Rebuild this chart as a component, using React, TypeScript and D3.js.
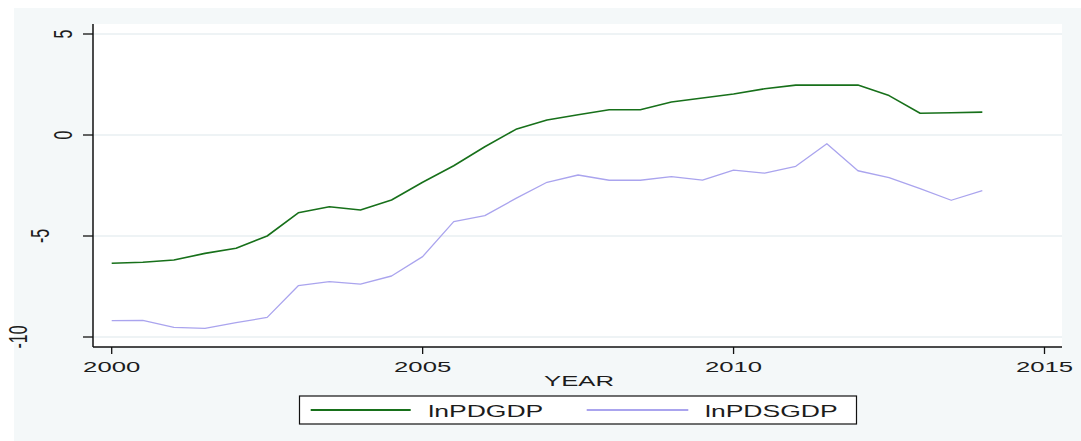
import React from "react";
import * as d3 from "d3";

// Half-yearly observations, 2000–2014
const years: number[] = [
  2000, 2000.5, 2001, 2001.5, 2002, 2002.5, 2003, 2003.5, 2004, 2004.5,
  2005, 2005.5, 2006, 2006.5, 2007, 2007.5, 2008, 2008.5, 2009, 2009.5,
  2010, 2010.5, 2011, 2011.5, 2012, 2012.5, 2013, 2013.5, 2014,
];

const lnPDGDP: number[] = [
  -6.35, -6.3, -6.19, -5.86, -5.61, -5.0, -3.85, -3.55, -3.71, -3.22,
  -2.34, -1.52, -0.58, 0.28, 0.74, 1.0, 1.25, 1.25, 1.63, 1.83,
  2.03, 2.29, 2.47, 2.47, 2.47, 1.95, 1.08, 1.1, 1.13,
];

const lnPDSGDP: number[] = [
  -9.19, -9.18, -9.52, -9.57, -9.29, -9.03, -7.46, -7.26, -7.38, -6.98,
  -6.02, -4.29, -3.99, -3.14, -2.34, -1.98, -2.24, -2.24, -2.06, -2.23,
  -1.74, -1.89, -1.55, -0.43, -1.77, -2.11, -2.65, -3.23, -2.75,
];

const xTicks: number[] = [2000, 2005, 2010, 2015];
const yTicks: number[] = [-10, -5, 0, 5];
const seriesNames: string[] = ["lnPDGDP", "lnPDSGDP"];
const seriesColors: string[] = ["#17701a", "#aaa4ee"];

const W = 1081;
const H = 441;
const plotLeft = 93;
const plotRight = 1062;
const plotTop = 24;
const plotBottom = 347;
const FONT = "'Liberation Sans', Arial, Helvetica, sans-serif";
const STRETCH = 1.66;

export default function App() {
  const x = d3.scaleLinear().domain([2000, 2015]).range([111.7, 1044.5]);
  const y = d3.scaleLinear().domain([-10, 5]).range([337, 34]);

  const line = d3
    .line<[number, number]>()
    .x((d) => x(d[0]))
    .y((d) => y(d[1]));

  const series = [lnPDGDP, lnPDSGDP].map((vals) =>
    years.map((yr, i) => [yr, vals[i]] as [number, number])
  );

  const textColor = "#1c1c1c";

  return (
    <svg
      width={W}
      height={H}
      style={{ position: "absolute", left: 0, top: 0, display: "block" }}
      fontFamily={FONT}
    >
      <rect x={0} y={0} width={W} height={H} fill="#ffffff" />
      {/* graph region */}
      <rect x={14} y={8} width={W - 14} height={H - 8} fill="#f4f8f9" />
      {/* plot region */}
      <rect
        x={plotLeft}
        y={plotTop}
        width={plotRight - plotLeft}
        height={plotBottom - plotTop}
        fill="#ffffff"
      />

      {/* horizontal grid */}
      {yTicks.map((t) => (
        <line
          key={"g" + t}
          x1={plotLeft}
          x2={plotRight}
          y1={y(t)}
          y2={y(t)}
          stroke="#eef3f5"
          strokeWidth={2}
        />
      ))}

      {/* series */}
      {series.map((pts, i) => (
        <path
          key={seriesNames[i]}
          d={line(pts) ?? ""}
          fill="none"
          stroke={seriesColors[i]}
          strokeWidth={i === 0 ? 1.6 : 1.3}
          strokeLinejoin="round"
        />
      ))}

      {/* axes */}
      <line
        x1={plotLeft}
        x2={plotLeft}
        y1={plotTop}
        y2={plotBottom}
        stroke="#111"
        strokeWidth={1.5}
      />
      <line
        x1={plotLeft}
        x2={plotRight}
        y1={plotBottom}
        y2={plotBottom}
        stroke="#111"
        strokeWidth={1.5}
      />

      {/* y ticks and rotated labels */}
      {yTicks.map((t) => {
        const label = String(t);
        const cx = 62.5 - 22.5 * (label.length - 1);
        return (
          <g key={"y" + t}>
            <line
              x1={plotLeft - 10}
              x2={plotLeft}
              y1={y(t)}
              y2={y(t)}
              stroke="#111"
              strokeWidth={1.3}
            />
            <text
              transform={`translate(${cx},${y(t)}) scale(${STRETCH},1) rotate(-90)`}
              y={5.7}
              textAnchor="middle"
              fontSize={16}
              fill={textColor}
            >
              {label}
            </text>
          </g>
        );
      })}

      {/* x ticks and labels */}
      {xTicks.map((t) => (
        <g key={"x" + t}>
          <line
            x1={x(t)}
            x2={x(t)}
            y1={plotBottom}
            y2={plotBottom + 7}
            stroke="#111"
            strokeWidth={1.3}
          />
          <text
            transform={`translate(${x(t)},372) scale(${STRETCH},1)`}
            textAnchor="middle"
            fontSize={15.5}
            fill={textColor}
          >
            {t}
          </text>
        </g>
      ))}

      {/* x axis title */}
      <text
        transform={`translate(579,386) scale(${STRETCH},1)`}
        textAnchor="middle"
        fontSize={15.5}
        fill={textColor}
      >
        YEAR
      </text>

      {/* legend */}
      <rect
        x={299.5}
        y={396}
        width={557}
        height={28}
        fill="#ffffff"
        stroke="#111"
        strokeWidth={1.2}
      />
      {[
        { x1: 310.7, x2: 410.7, tx: 428.3 },
        { x1: 586.7, x2: 688.3, tx: 705 },
      ].map((p, i) => (
        <g key={"lg" + i}>
          <line
            x1={p.x1}
            x2={p.x2}
            y1={410}
            y2={410}
            stroke={seriesColors[i]}
            strokeWidth={i === 0 ? 2 : 1.8}
          />
          <text
            transform={`translate(${p.tx},416.5) scale(${STRETCH},1)`}
            textAnchor="start"
            fontSize={16}
            fill={textColor}
          >
            {seriesNames[i]}
          </text>
        </g>
      ))}
    </svg>
  );
}
